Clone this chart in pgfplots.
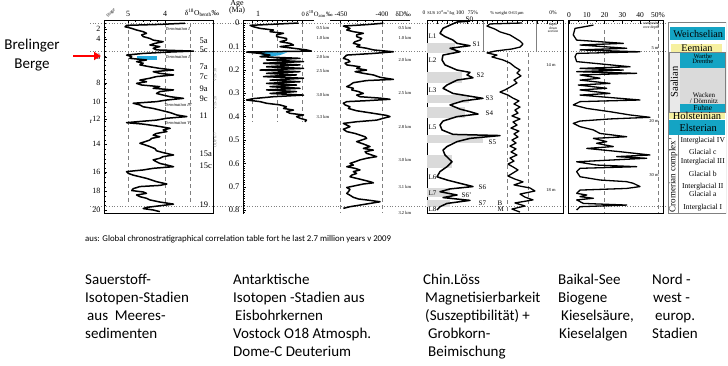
\documentclass[border=0pt]{standalone}
\usepackage{fontspec}
\setmainfont{Liberation Serif}
\newfontfamily\calfont{Carlito}
\usepackage{pgfplots}
\pgfplotsset{compat=1.18}
\usetikzlibrary{arrows.meta}
\definecolor{tealc}{RGB}{20,164,196}
\definecolor{yelc}{RGB}{246,240,160}
\definecolor{greyc}{RGB}{218,218,218}
\definecolor{bluc}{RGB}{38,170,222}
\newcommand{\fs}[1]{\fontsize{#1}{#1}\selectfont}
\pgfplotsset{
 panel/.style={scale only axis, height=193.05pt, ymin=-0.01, ymax=0.815, y dir=reverse,
   anchor=north west, axis line style={line width=0.6pt,-}, tick style={line width=0.4pt,black},
   /pgf/number format/assume math mode=true, tick align=inside,
   tick label style={font=\fs{8}}, major tick length=3pt, minor tick length=1.6pt},
 curve/.style={black, line width=1.5pt, line join=round, no marks},
 dgrid/.style={gray, line width=0.4pt, dash pattern=on 4pt off 3pt},
}
\begin{document}
\begin{tikzpicture}
\useasboundingbox (0pt,0pt) rectangle (728pt,365pt);
\fill[white] (0pt,0pt) rectangle (728pt,365pt);

% dotted guide lines across the panels
\begin{axis}[panel, at={(90pt,344.34pt)}, width=578pt, xmin=0, xmax=1, hide axis]
\addplot[gray, dotted, line width=0.7pt] coordinates {(0,0) (1,0)};
\addplot[gray, dotted, line width=0.7pt] coordinates {(0,0.123) (1,0.123)};
\addplot[gray, dotted, line width=0.7pt] coordinates {(0,0.782) (1,0.782)};
\end{axis}

% ---------- Panel 1: benthic d18O / marine isotope stages
\begin{axis}[panel, at={(104pt,344.34pt)}, width=109pt, xmin=2.703, xmax=5.649, x dir=reverse,
  xtick={5,4}, xticklabels={}, xtick pos=right, minor x tick num=4,
  ytick={0.026,0.068,0.145,0.256,0.338,0.41,0.517,0.637,0.718,0.8},
  yticklabels={2,4,6,8,10,12,14,16,18,20}, ytick pos=left,
  minor ytick={0,0.02,...,0.8}]
\addplot[dgrid] coordinates {(5,0) (5,0.77)};
\addplot[dgrid] coordinates {(4,0) (4,0.77)};
\addplot[dgrid] coordinates {(3.32,0) (3.32,0.77)};
\addplot[fill=bluc, draw=none] coordinates {(4.76,0.141) (4.22,0.141) (4.22,0.158) (4.76,0.158)} -- cycle;
\addplot[curve] table {
3.46 0.001
4.14 0.006
5.04 0.010
5.08 0.016
4.90 0.023
4.77 0.030
4.59 0.037
4.50 0.044
4.63 0.051
4.59 0.058
4.41 0.066
4.32 0.073
4.05 0.080
4.27 0.087
4.41 0.094
4.14 0.101
4.32 0.108
4.23 0.115
3.23 0.120
3.86 0.124
4.59 0.130
5.04 0.137
4.90 0.144
4.95 0.151
4.50 0.158
4.77 0.165
4.59 0.172
4.68 0.179
4.41 0.187
4.14 0.194
3.77 0.201
4.32 0.208
4.14 0.215
3.77 0.222
4.23 0.229
4.41 0.236
4.68 0.244
4.50 0.251
4.77 0.258
4.63 0.265
4.14 0.272
4.32 0.279
3.77 0.286
4.14 0.293
4.23 0.301
4.05 0.308
3.86 0.315
3.50 0.322
3.95 0.329
4.23 0.336
4.86 0.343
4.68 0.350
4.59 0.358
4.32 0.365
4.14 0.372
3.86 0.383
3.68 0.393
3.41 0.400
3.95 0.407
4.23 0.415
4.77 0.422
5.04 0.426
4.59 0.432
4.23 0.440
3.86 0.450
4.05 0.457
3.95 0.464
4.23 0.472
4.32 0.479
4.14 0.486
4.36 0.493
4.41 0.500
4.54 0.507
4.68 0.514
4.54 0.521
4.41 0.528
4.27 0.537
4.23 0.546
4.05 0.554
3.77 0.564
4.05 0.571
4.14 0.578
4.32 0.585
4.23 0.593
4.14 0.600
3.95 0.607
3.77 0.614
4.32 0.621
4.59 0.628
5.04 0.635
4.99 0.643
4.86 0.650
4.68 0.657
4.50 0.664
4.36 0.671
4.23 0.678
3.95 0.688
4.14 0.694
4.68 0.699
4.86 0.708
4.90 0.716
4.59 0.722
4.50 0.728
4.77 0.735
4.68 0.742
4.50 0.749
4.41 0.756
4.14 0.765
3.77 0.774
4.14 0.781
4.50 0.788
4.59 0.793
4.32 0.799
4.14 0.806
};
\end{axis}

% ---------- Age axis
\begin{axis}[panel, at={(243pt,344.34pt)}, width=1pt, xmin=0, xmax=1,
  axis x line=none, axis y line*=left, axis line style={-},
  ytick={0,0.1,0.2,0.3,0.4,0.5,0.6,0.7,0.8},
  yticklabels={0,0.1,0.2,0.3,0.4,0.5,0.6,0.7,0.8},
  minor ytick={0,0.01,...,0.81}, tick label style={font=\fs{8.5}}]
\addplot[draw=none] coordinates {(0,0)};
\end{axis}

% ---------- Vostok d18O atm
\begin{axis}[panel, at={(243pt,344.34pt)}, width=71pt, xmin=-0.24, xmax=1.18, x dir=reverse,
  axis x line*=top, axis y line=none, axis line style={-},
  xtick={1,0.5,0}, xticklabels={}, minor x tick num=4]
\addplot[dgrid] coordinates {(1,0) (1,0.42)};
\addplot[dgrid] coordinates {(0.5,0) (0.5,0.42)};
\addplot[dgrid] coordinates {(0,0) (0,0.42)};
\addplot[fill=bluc, draw=none] coordinates {(0.86,0.124) (0.30,0.126) (0.45,0.138) (0.75,0.146)} -- cycle;
\addplot[curve] table {
0.07 0.000
0.44 0.004
1.04 0.010
0.97 0.016
0.84 0.023
0.57 0.030
0.64 0.037
0.37 0.044
0.51 0.051
0.51 0.058
0.31 0.066
0.31 0.073
0.44 0.080
0.24 0.087
0.17 0.094
0.44 0.101
0.17 0.108
-0.09 0.115
-0.19 0.120
1.11 0.124
0.84 0.130
0.64 0.137
0.84 0.144
0.04 0.151
0.71 0.158
-0.03 0.165
0.77 0.172
0.04 0.179
0.71 0.187
-0.03 0.194
0.84 0.201
0.04 0.208
0.71 0.215
0.11 0.222
0.77 0.229
-0.03 0.236
0.64 0.244
0.04 0.251
0.71 0.258
0.11 0.265
0.64 0.272
0.04 0.279
0.71 0.286
0.11 0.293
0.64 0.301
-0.03 0.308
0.57 0.315
0.97 0.323
1.11 0.329
0.84 0.336
0.71 0.343
0.44 0.350
0.31 0.358
0.37 0.365
0.17 0.372
0.31 0.379
0.24 0.386
-0.03 0.393
0.11 0.400
0.04 0.407
-0.09 0.415
-0.06 0.422
};
\end{axis}

% ---------- Dome C deuterium
\begin{axis}[panel, at={(330pt,344.34pt)}, width=80pt, xmin=-461.9, xmax=-366.7,
  axis x line*=top, axis y line=none, axis line style={-},
  xtick={-450,-400}, xticklabels={}, minor x tick num=4]
\addplot[dgrid] coordinates {(-450,0) (-450,0.81)};
\addplot[dgrid] coordinates {(-400,0) (-400,0.81)};
\addplot[curve] table {
-398.4 0.001
-418.3 0.007
-446 0.013
-438.1 0.023
-442 0.030
-434.1 0.037
-422.2 0.044
-430.2 0.051
-430.2 0.058
-424.2 0.066
-426.2 0.073
-432.1 0.080
-434.1 0.087
-426.2 0.094
-430.2 0.101
-418.3 0.108
-410.3 0.115
-386.5 0.123
-410.3 0.130
-442 0.137
-444 0.144
-446 0.151
-440 0.158
-438.1 0.165
-444 0.172
-442 0.179
-426.2 0.187
-430.2 0.194
-418.3 0.201
-432.1 0.208
-422.2 0.215
-410.3 0.222
-402.4 0.232
-386.5 0.241
-418.3 0.246
-434.1 0.255
-438.1 0.265
-442 0.272
-434.1 0.279
-436 0.286
-428 0.293
-422.2 0.301
-430.2 0.308
-426.2 0.315
-402.4 0.321
-390.5 0.326
-418.3 0.332
-442 0.336
-446 0.343
-444 0.350
-438.1 0.358
-440 0.365
-430.2 0.375
-410.3 0.386
-394.4 0.395
-390.5 0.400
-398.4 0.407
-406.3 0.415
-430.2 0.422
-446 0.429
-442 0.436
-438.1 0.443
-446 0.454
-442 0.464
-432.1 0.472
-426.2 0.479
-420.2 0.486
-418.3 0.493
-424.2 0.500
-430.2 0.507
-422.2 0.517
-414.3 0.528
-422.2 0.536
-410.3 0.543
-420.2 0.550
-418.3 0.557
-412.3 0.564
-406.3 0.571
-418.3 0.578
-426.2 0.585
-432.1 0.593
-438.1 0.600
-434.1 0.607
-442 0.614
-432.1 0.621
-426.2 0.628
-434.1 0.635
-430.2 0.643
-436 0.650
-438.1 0.657
-430.2 0.664
-422.2 0.671
-414.3 0.678
-410.3 0.683
-422.2 0.688
-430.2 0.694
-442 0.703
-438.1 0.711
-440 0.721
-442 0.728
-438.1 0.736
-434.1 0.745
-428 0.752
-414.3 0.758
-402.4 0.764
-414.3 0.771
-426.2 0.778
-438.1 0.785
-446 0.792
};
\end{axis}

% ---------- Chinese loess: susceptibility
\begin{axis}[panel, at={(427pt,344.34pt)}, width=136pt, xmin=0, xmax=340,
  xtick={0,25,...,325}, xticklabels={}, xtick pos=right, minor x tick num=1,
  ytick=\empty]
\fill[greyc] (axis cs:0,0.085) rectangle (axis cs:70,0.128);
\fill[greyc] (axis cs:0,0.209) rectangle (axis cs:87,0.256);
\fill[greyc] (axis cs:0,0.308) rectangle (axis cs:105,0.342);
\fill[greyc] (axis cs:0,0.359) rectangle (axis cs:95,0.406);
\fill[greyc] (axis cs:0,0.479) rectangle (axis cs:140,0.513);
\fill[greyc] (axis cs:0,0.564) rectangle (axis cs:62,0.620);
\fill[greyc] (axis cs:0,0.705) rectangle (axis cs:57,0.744);
\fill[greyc] (axis cs:0,0.756) rectangle (axis cs:57,0.786);
\addplot[curve] table {
107.5 -0.008
75 -0.004
57.5 0.009
40 0.023
32.5 0.044
45 0.058
65 0.073
75 0.087
107.5 0.097
57.5 0.108
82.5 0.123
40 0.137
37.5 0.158
45 0.179
75 0.201
107.5 0.211
100 0.222
115 0.234
75 0.244
50 0.265
40 0.279
65 0.301
115 0.315
140 0.322
90 0.333
57.5 0.350
82.5 0.368
107.5 0.379
127.5 0.389
75 0.400
40 0.419
32.5 0.436
37.5 0.457
65 0.476
182.5 0.481
107.5 0.493
75 0.507
50 0.528
40 0.543
45 0.564
62.5 0.593
50 0.614
32.5 0.635
25 0.657
50 0.671
82.5 0.685
115 0.699
57.5 0.709
32.5 0.721
75 0.735
40 0.746
107.5 0.758
50 0.771
32.5 0.785
25 0.799
};
\end{axis}

% ---------- Chinese loess: grain size
\begin{axis}[panel, at={(427pt,344.34pt)}, width=136pt, xmin=-23.4, xmax=143.9, x dir=reverse, hide axis]
\addplot[dgrid] coordinates {(45.5,0.13) (45.5,0.81)};
\addplot[dgrid] coordinates {(19.7,0.13) (19.7,0.81)};
\addplot[gray, line width=0.4pt] coordinates {(74.6,-0.01) (74.6,0.123)};
\addplot[gray, line width=0.4pt] coordinates {(9,-0.01) (9,0.123)};
\addplot[curve, line width=1.3pt] table {
27.1 0.000
66.4 0.004
70.1 0.013
60.3 0.026
54.1 0.038
41.8 0.051
35.7 0.064
29.5 0.077
25.8 0.090
29.5 0.103
39.4 0.111
60.3 0.120
70.1 0.128
57.8 0.137
64.0 0.145
50.4 0.158
41.8 0.171
35.7 0.188
29.5 0.201
33.2 0.214
28.3 0.226
36.9 0.244
33.2 0.256
41.8 0.274
48.0 0.286
54.1 0.295
44.3 0.308
38.1 0.321
30.8 0.333
36.9 0.346
29.5 0.359
35.7 0.372
32.0 0.385
39.4 0.397
29.5 0.410
38.1 0.423
33.2 0.436
40.6 0.449
30.8 0.462
36.9 0.474
32.0 0.487
39.4 0.500
34.4 0.513
41.8 0.526
34.4 0.538
40.6 0.551
33.2 0.564
41.8 0.577
36.9 0.590
44.3 0.603
38.1 0.615
32.0 0.628
38.1 0.641
44.3 0.654
35.7 0.667
25.8 0.679
36.9 0.692
17.2 0.705
11.1 0.718
29.5 0.731
23.4 0.744
13.5 0.756
35.7 0.769
23.4 0.782
39.4 0.795
29.5 0.808
};
\end{axis}

% ---------- Baikal biogenic silica
\begin{axis}[panel, at={(568pt,344.34pt)}, width=95pt, xmin=-0.56, xmax=52.8,
  xtick={0,10,20,30,40,50}, xticklabels={0,10,20,30,40,50\%}, xtick pos=right, xticklabel pos=right,
  minor x tick num=1, ytick=\empty, tick label style={font=\fs{7.5}}]
\addplot[dgrid] coordinates {(20,0.03) (20,0.81)};
\addplot[dgrid] coordinates {(50,0) (50,0.81)};
\addplot[curve, line width=1.3pt] table {
13.7 0.009
3.4 0.023
2.4 0.051
4.3 0.073
30.5 0.087
6.2 0.094
32.4 0.108
6.2 0.115
39.9 0.123
4.3 0.130
3.4 0.144
4.3 0.165
34.3 0.187
6.2 0.194
30.5 0.201
4.3 0.208
38.0 0.215
6.2 0.222
17.4 0.236
6.2 0.244
23.0 0.258
5.2 0.265
21.2 0.279
6.2 0.286
23.0 0.301
6.2 0.308
39.9 0.329
6.2 0.336
2.4 0.350
10.0 0.365
23.0 0.379
34.3 0.393
45.5 0.403
23.0 0.410
6.2 0.419
2.4 0.429
6.2 0.443
13.7 0.457
17.4 0.472
32.4 0.486
13.7 0.493
21.2 0.507
15.5 0.514
24.9 0.528
10.0 0.536
28.7 0.550
45.5 0.564
26.8 0.571
43.6 0.578
4.3 0.593
15.5 0.607
38.0 0.614
6.2 0.621
4.3 0.635
6.2 0.657
17.4 0.671
32.4 0.678
36.1 0.685
38.0 0.692
39.9 0.699
32.4 0.707
6.2 0.714
4.3 0.728
10.0 0.735
6.2 0.742
13.7 0.749
4.3 0.756
8.1 0.771
32.4 0.778
6.2 0.785
4.3 0.799
};
\end{axis}

% ---------- NW European stages table
\begin{axis}[panel, at={(668pt,344.34pt)}, width=58pt, xmin=0, xmax=1, hide axis]
\fill[tealc] (axis cs:0.04,0.017) rectangle (axis cs:0.98,0.073);
\fill[yelc] (axis cs:0.06,0.088) rectangle (axis cs:0.93,0.124);
\fill[greyc!60] (axis cs:0.02,0.124) rectangle (axis cs:0.2,0.380);
\fill[tealc] (axis cs:0.2,0.124) rectangle (axis cs:0.98,0.192);
\fill[greyc] (axis cs:0.2,0.192) rectangle (axis cs:0.98,0.346);
\fill[tealc] (axis cs:0.2,0.346) rectangle (axis cs:0.98,0.380);
\fill[yelc] (axis cs:0.02,0.380) rectangle (axis cs:0.98,0.412);
\fill[tealc] (axis cs:0.02,0.415) rectangle (axis cs:0.98,0.479);
\draw[gray, line width=0.5pt] (axis cs:0,-0.004) rectangle (axis cs:1,0.812);
\draw[gray, line width=0.4pt] (axis cs:0.18,0.479) -- (axis cs:0.18,0.812);
\draw[gray, line width=0.4pt] (axis cs:0.02,0.124) rectangle (axis cs:0.98,0.380);
\node[font=\fs{10.2}, inner sep=0pt] at (axis cs:0.52,0.047) {Weichselian};
\node[font=\fs{10.2}, inner sep=0pt] at (axis cs:0.5,0.107) {Eemian};
\node[font=\fs{6.5}, inner sep=0pt] at (axis cs:0.6,0.141) {Warthe};
\node[font=\fs{6.5}, inner sep=0pt] at (axis cs:0.6,0.165) {Drenthe};
\node[font=\fs{10.5}, rotate=90, inner sep=0pt] at (axis cs:0.11,0.252) {Saalian};
\node[font=\fs{7}, inner sep=0pt] at (axis cs:0.62,0.310) {Wacken};
\node[font=\fs{7}, inner sep=0pt] at (axis cs:0.62,0.336) {/ Dömnitz};
\node[font=\fs{7.5}, inner sep=0pt] at (axis cs:0.6,0.363) {Fuhne};
\node[font=\fs{10.5}, inner sep=0pt] at (axis cs:0.5,0.397) {Holsteinian};
\node[font=\fs{10.5}, inner sep=0pt] at (axis cs:0.52,0.449) {Elsterian};
\node[font=\fs{9}, rotate=90, inner sep=0pt] at (axis cs:0.09,0.650) {Cromerian complex'};
\node[font=\fs{7.6}, inner sep=0pt] at (axis cs:0.6,0.504) {Interglacial IV};
\node[font=\fs{7.6}, inner sep=0pt] at (axis cs:0.6,0.551) {Glacial c};
\node[font=\fs{7.6}, inner sep=0pt] at (axis cs:0.6,0.594) {Interglacial III};
\node[font=\fs{7.6}, inner sep=0pt] at (axis cs:0.6,0.645) {Glacial b};
\node[font=\fs{7.6}, inner sep=0pt] at (axis cs:0.6,0.699) {Interglacial II};
\node[font=\fs{7.6}, inner sep=0pt] at (axis cs:0.6,0.729) {Glacial a};
\node[font=\fs{7.6}, inner sep=0pt] at (axis cs:0.6,0.791) {Interglacial I};
\end{axis}

% ---------- annotations (coordinates measured from the top)
\begin{scope}[shift={(0pt,365pt)}, x=1pt, y=-1pt]
\draw[red, line width=2.4pt, -{Triangle[length=7pt,width=8pt]}] (73,56) -- (101,56);
\node[anchor=base, font=\calfont\fs{15}] at (32,49) {Brelinger};
\node[anchor=base, font=\calfont\fs{15}] at (32,68) {Berge};
\node[font=\fs{7}] at (91,122) {r};
% panel 1
\node[font=\fs{8}] at (128,14) {5};
\node[font=\fs{8}] at (165,14) {4};
\node[anchor=west, font=\fs{8.5}] at (196,41) {5a};
\node[anchor=west, font=\fs{8.5}] at (196,50) {5c};
\node[anchor=west, font=\fs{8.5}] at (196,67) {7a};
\node[anchor=west, font=\fs{8.5}] at (196,77) {7c};
\node[anchor=west, font=\fs{8.5}] at (196,89) {9a};
\node[anchor=west, font=\fs{8.5}] at (196,99) {9c};
\node[anchor=west, font=\fs{8.5}] at (196,116) {11};
\node[anchor=west, font=\fs{8.5}] at (196,154) {15a};
\node[anchor=west, font=\fs{8.5}] at (196,166) {15c};
\node[anchor=west, font=\fs{8.5}] at (196,205) {19};
\node[anchor=west, font=\itshape\fs{4.5}] at (162,29) {Termination I};
\node[anchor=west, font=\itshape\fs{4.5}] at (162,57) {Termination II};
\node[anchor=west, font=\itshape\fs{4.5}] at (161,105) {Termination IV};
\node[anchor=west, font=\itshape\fs{4.5}] at (161,123) {Termination V};
\node[font=\fs{7.5}] at (202,13) {δ\textsuperscript{18}O\textsubscript{benth}‰};
\node[font=\fs{8}] at (237,4) {Age};
\node[font=\fs{8}] at (237,11) {(Ma)};
% Vostok / Dome C
\node[font=\fs{8}] at (258,14) {1};
\node[anchor=west, font=\fs{6.5}] at (298,14) {0\,δ\textsuperscript{18}O\textsubscript{atm}‰};
\node[font=\fs{7}] at (341,14) {-450};
\node[font=\fs{7}] at (382,14) {-400};
\node[anchor=west, font=\fs{7}] at (392,14) {δD‰};
\foreach \y/\t in {28/0.5,38/1.0,57/2.0,71/2.5,95/3.0,117/3.3}
  \node[anchor=west, font=\fs{4.5}] at (313,\y) {\t\ km};
\foreach \y/\t in {28/0.5,38/1.0,60/2.0,93/2.5,127/2.8,160/3.0,187/3.1,213/3.2}
  \node[anchor=west, font=\fs{4.5}] at (395,\y) {\t\ km};
% loess
\node[font=\fs{5.5}, inner sep=0pt] at (424,13) {0};
\node[font=\fs{4.3}, inner sep=0pt] at (441,13) {SUS 10\textsuperscript{-8}m\textsuperscript{3}/kg};
\node[font=\fs{5.5}, inner sep=0pt] at (460,13) {100};
\node[font=\fs{5.5}, inner sep=0pt] at (473,13) {75\%};
\node[font=\fs{4.5}, inner sep=0pt] at (507,13) {\% weight 0-63\,µm};
\node[font=\fs{5.5}, inner sep=0pt] at (553,13) {0\%};
\foreach \x/\y/\t in {465/19/S0,428/36/L1,472/44/S1,428/60/L2,476/75/S2,428/90/L3,485/98/S3,485/113/S4,428/127/L5,488/142/S5,428/177/L6,478/187/S6,428/193/L7,461/195/S6',478/203/S7,428/209/L8,497/203/B,497/209/M}
  \node[anchor=west, font=\fs{7}, inner sep=0.5pt] at (\x,\y) {\t};
\node[font=\fs{3.6}, align=center] at (553,28) {depth\\down\\section};
\node[font=\fs{4.5}] at (551,65) {14 m};
\node[font=\fs{4.5}] at (551,190) {18 m};
% Baikal
\node[font=\fs{3.8}, align=center] at (651,26) {composite\\core depth};
\node[font=\fs{4.5}] at (655,48) {5 m};
\node[font=\fs{4.5}] at (654,121) {20 m};
\node[font=\fs{4.5}] at (654,175) {30 m};
% citation and column titles
\node[anchor=base west, font=\calfont\fs{8.8}, inner sep=0pt] at (85,241) {aus: Global chronostratigraphical correlation table fort he last 2.7 million years v 2009};
\foreach \x/\y/\t in {
 85/284.5/Sauerstoff-, 85/302.3/Isotopen-Stadien, 87/320.2/aus\ \ Meeres-, 85/338/sedimenten,
 233/284.5/Antarktische, 233/302.3/Isotopen -Stadien aus, 235/320.2/Eisbohrkernen, 233/338/Vostock O18 Atmosph., 233/356/Dome-C Deuterium,
 423/284.5/Chin.Löss, 425/302.3/Magnetisierbarkeit, 425/320.2/(Suszeptibilität) +, 428/338/Grobkorn-, 428/356/Beimischung,
 558/284.5/Baikal-See, 558/302.3/Biogene, 561/320.2/Kieselsäure{,}, 559/338/Kieselalgen,
 652/284.5/Nord -, 653/302.3/west -, 655/320.2/europ., 652/338/Stadien}
  \node[anchor=base west, font=\calfont\fs{15}, inner sep=0pt] at (\x,\y) {\t};
\node[rotate=45, font=\fs{4.5}] at (111,13) {Stage};
\node[rotate=90, font=\fs{4}, text=gray] at (215,75) {V19-30};
\node[rotate=90, font=\fs{4}, text=gray] at (215,103) {V19-28};
\node[rotate=90, font=\fs{4}, text=gray] at (215,140) {ODP 677};
\end{scope}
\end{tikzpicture}
\end{document}
